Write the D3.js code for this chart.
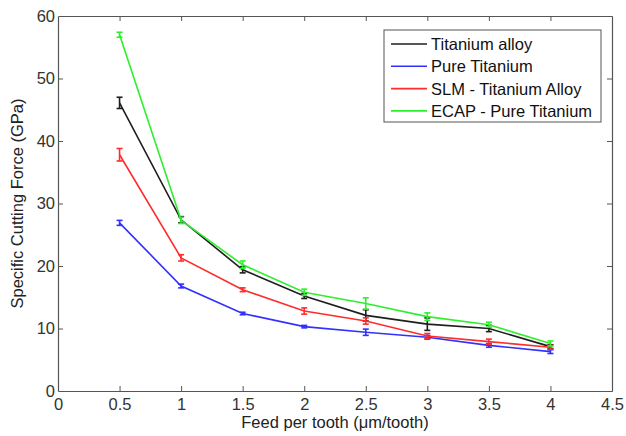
<!DOCTYPE html>
<html>
<head>
<meta charset="utf-8">
<script src="https://cdn.jsdelivr.net/npm/d3@7"></script>
<style>
  body { margin: 0; background: #fff; }
  text { font-family: "Liberation Sans", Arial, sans-serif; }
</style>
</head>
<body>
<div id="container"></div>
<script>
// feed per tooth (um/tooth)
var feeds = [0.5, 1, 1.5, 2, 2.5, 3, 3.5, 4];

// specific cutting force (GPa)
var titaniumAlloy = [46.1, 27.4, 19.4, 15.2, 12.1, 10.7, 10.0, 7.1];
var pureTitanium  = [26.9, 16.8, 12.4, 10.3, 9.4, 8.6, 7.3, 6.3];
var slmAlloy      = [37.8, 21.3, 16.2, 12.8, 11.2, 8.8, 7.9, 7.0];
var ecapPure      = [57.0, 27.3, 20.2, 15.8, 14.0, 11.9, 10.6, 7.6];

// error bar half widths
var titaniumAlloyErr = [0.9, 0.5, 0.5, 0.4, 0.9, 1.0, 0.5, 0.3];
var pureTitaniumErr  = [0.4, 0.3, 0.2, 0.2, 0.5, 0.3, 0.3, 0.3];
var slmAlloyErr      = [1.0, 0.5, 0.3, 0.5, 0.5, 0.4, 0.4, 0.3];
var ecapPureErr      = [0.4, 0.5, 0.6, 0.5, 0.9, 0.6, 0.4, 0.4];

var seriesNames = ["Titanium alloy", "Pure Titanium", "SLM - Titanium Alloy", "ECAP - Pure Titanium"];
var seriesColors = ["#1e1e1e", "#3030ff", "#ff2c2c", "#2cf02c"];

var xTicks = [0, 0.5, 1, 1.5, 2, 2.5, 3, 3.5, 4, 4.5];
var yTicks = [0, 10, 20, 30, 40, 50, 60];

var series = [
  { name: seriesNames[0], color: seriesColors[0], y: titaniumAlloy, e: titaniumAlloyErr },
  { name: seriesNames[1], color: seriesColors[1], y: pureTitanium,  e: pureTitaniumErr },
  { name: seriesNames[2], color: seriesColors[2], y: slmAlloy,      e: slmAlloyErr },
  { name: seriesNames[3], color: seriesColors[3], y: ecapPure,      e: ecapPureErr }
];

var width = 626, height = 436;
var margin = { left: 58, right: 14, top: 16, bottom: 45 };
var fontSize = "16.5px";

var svg = d3.select("#container").append("svg")
  .attr("width", width)
  .attr("height", height);

var x = d3.scaleLinear().domain([0, 4.5]).range([margin.left, width - margin.right]);
var y = d3.scaleLinear().domain([0, 60]).range([height - margin.bottom, margin.top]);

var axisColor = "#555";

// box axes, matlab style with inward ticks on all sides
var axBottom = svg.append("g")
  .attr("transform", "translate(0," + y(0) + ")")
  .call(d3.axisBottom(x).tickValues(xTicks).tickSizeInner(-5).tickSizeOuter(0).tickPadding(7)
        .tickFormat(function(d){ return d; }));
var axTop = svg.append("g")
  .attr("transform", "translate(0," + y(60) + ")")
  .call(d3.axisTop(x).tickValues(xTicks).tickSizeInner(-5).tickSizeOuter(0).tickFormat(""));
var axLeft = svg.append("g")
  .attr("transform", "translate(" + x(0) + ",0)")
  .call(d3.axisLeft(y).tickValues(yTicks).tickSizeInner(-5).tickSizeOuter(0).tickPadding(3));
var axRight = svg.append("g")
  .attr("transform", "translate(" + x(4.5) + ",0)")
  .call(d3.axisRight(y).tickValues(yTicks).tickSizeInner(-5).tickSizeOuter(0).tickFormat(""));

[axBottom, axTop, axLeft, axRight].forEach(function(g){
  g.select(".domain").attr("stroke", axisColor).attr("stroke-width", 1.2);
  g.selectAll(".tick line").attr("stroke", axisColor);
  g.selectAll(".tick text").attr("fill", "#333").style("font-size", fontSize);
});
// no tick marks at the corners
axBottom.selectAll(".tick").filter(function(d){ return d === 0 || d === 4.5; }).select("line").remove();
axLeft.selectAll(".tick").filter(function(d){ return d === 0 || d === 60; }).select("line").remove();
axTop.selectAll(".tick").filter(function(d){ return d === 0 || d === 4.5; }).remove();
axRight.selectAll(".tick").filter(function(d){ return d === 0 || d === 60; }).remove();

var line = d3.line()
  .x(function(d){ return x(d.x); })
  .y(function(d){ return y(d.y); });

var capW = 3;

series.forEach(function(s){
  var pts = feeds.map(function(f, i){ return { x: f, y: s.y[i], e: s.e[i] }; });
  var g = svg.append("g");
  g.append("path")
    .datum(pts)
    .attr("d", line)
    .attr("fill", "none")
    .attr("stroke", s.color)
    .attr("stroke-width", 1.6);

  var bars = g.selectAll(".err").data(pts).enter().append("g").attr("class", "err")
    .attr("stroke", s.color).attr("stroke-width", 1.6);
  bars.append("line")
    .attr("x1", function(d){ return x(d.x); }).attr("x2", function(d){ return x(d.x); })
    .attr("y1", function(d){ return y(d.y - d.e); }).attr("y2", function(d){ return y(d.y + d.e); });
  bars.append("line")
    .attr("x1", function(d){ return x(d.x) - capW; }).attr("x2", function(d){ return x(d.x) + capW; })
    .attr("y1", function(d){ return y(d.y + d.e); }).attr("y2", function(d){ return y(d.y + d.e); });
  bars.append("line")
    .attr("x1", function(d){ return x(d.x) - capW; }).attr("x2", function(d){ return x(d.x) + capW; })
    .attr("y1", function(d){ return y(d.y - d.e); }).attr("y2", function(d){ return y(d.y - d.e); });
});

// axis labels
svg.append("text")
  .attr("x", (x(0) + x(4.5)) / 2)
  .attr("y", 428)
  .attr("text-anchor", "middle")
  .attr("fill", "#222")
  .style("font-size", fontSize)
  .text("Feed per tooth (\u03bcm/tooth)");

svg.append("text")
  .attr("transform", "translate(23," + ((y(0) + y(60)) / 2) + ") rotate(-90)")
  .attr("text-anchor", "middle")
  .attr("fill", "#222")
  .style("font-size", fontSize)
  .text("Specific Cutting Force (GPa)");

// legend
var legend = svg.append("g").attr("transform", "translate(384,30)");
legend.append("rect")
  .attr("width", 217).attr("height", 92)
  .attr("fill", "#fff").attr("stroke", axisColor).attr("stroke-width", 1);

var items = legend.selectAll(".item").data(series).enter().append("g")
  .attr("transform", function(d, i){ return "translate(0," + (14 + i * 22.3) + ")"; });
items.append("line")
  .attr("x1", 7).attr("x2", 43).attr("y1", 0).attr("y2", 0)
  .attr("stroke", function(d){ return d.color; }).attr("stroke-width", 1.6);
items.append("text")
  .attr("x", 47).attr("y", 6)
  .attr("fill", "#111")
  .style("font-size", fontSize)
  .text(function(d){ return d.name; });
</script>
</body>
</html>
